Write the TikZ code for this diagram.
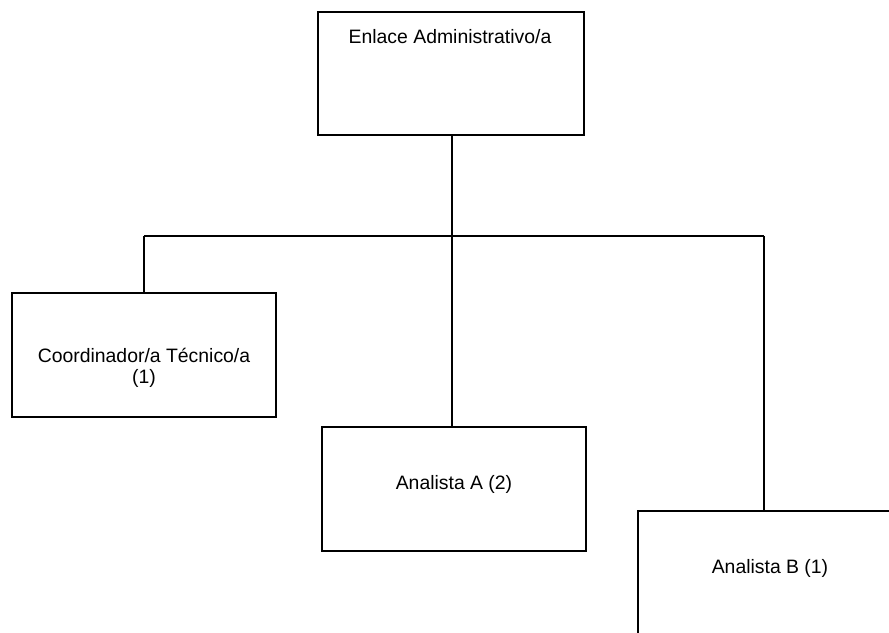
\documentclass[tikz,border=0pt]{standalone}
\usepackage{fontspec}
\setmainfont{Liberation Sans}
\begin{document}
\begin{tikzpicture}[x=1pt,y=-1pt,
  box/.style={draw=black,line width=1.8pt,fill=white,rectangle,inner sep=0pt,minimum width=264pt,minimum height=124pt},
  lbl/.style={anchor=base,inner sep=0pt,align=center,font=\fontsize{19.4}{23}\selectfont},
  conn/.style={draw=black,line width=1.7pt}]
\useasboundingbox (0,0) rectangle (889,632);
\clip (0,0) rectangle (889,632);
\fill[white] (0,0) rectangle (889,632);
% boxes
\node[box,minimum width=266pt,minimum height=123pt] (top) at (451,73.5) {};
\node[box] (coord) at (144,355) {};
\node[box] (anaA) at (454,489) {};
\node[box] (anaB) at (770,573) {};
\coordinate (bus) at (452,236);
\coordinate (busL) at (144,236);
\coordinate (busR) at (764,236);
% connectors
\draw[conn] (top.south -| bus) -- (bus |- anaA.north);
\draw[conn] (busL) -- (busR);
\draw[conn] (busL) -- (coord.north);
\draw[conn] (busR) -- (busR |- anaB.north);
% texts
\node[lbl] (topT) at (450,43.5) {Enlace Administrativo/a};
\node[lbl] (coordT) at (144,362) {Coordinador/a Técnico/a};
\node[lbl] (coordT2) at (144,383.5) {(1)};
\node[lbl] (anaAT) at (454,489) {Analista A (2)};
\node[lbl] (anaBT) at (770,573) {Analista B (1)};
\end{tikzpicture}
\end{document}
